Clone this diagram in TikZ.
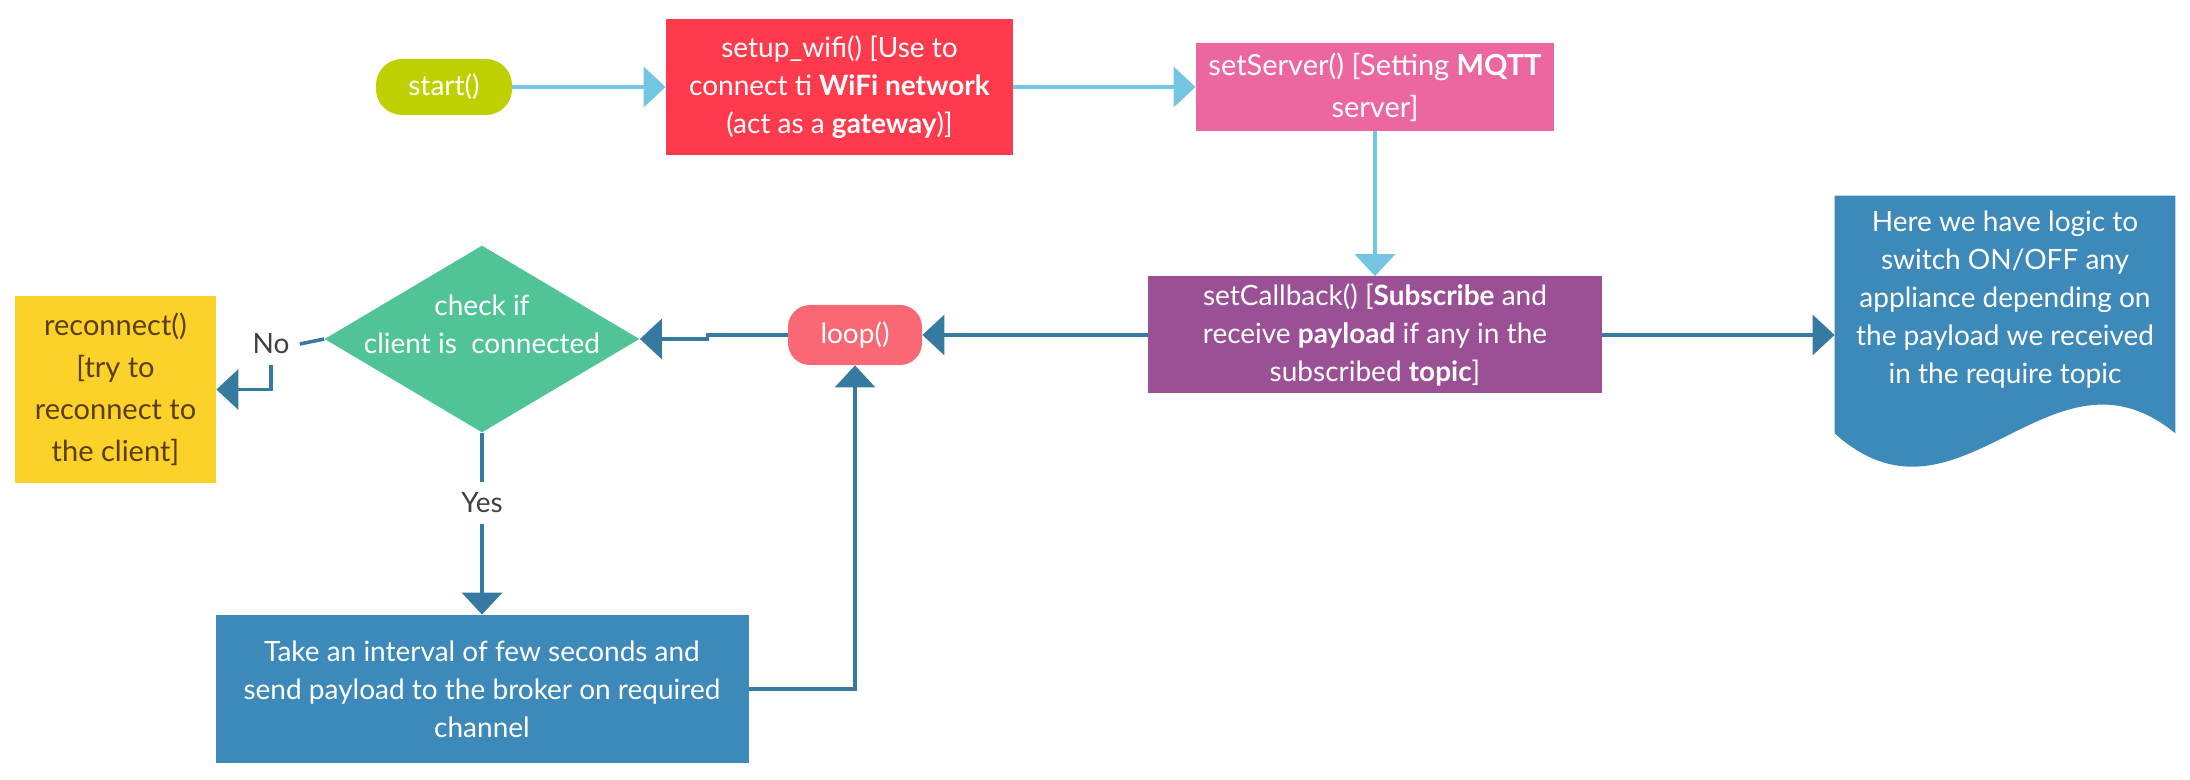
\documentclass[tikz,border=0pt]{standalone}
\usepackage{fontspec}
\setmainfont{Lato}
\usetikzlibrary{arrows.meta,shapes.geometric}
\definecolor{startgreen}{HTML}{BFD000}
\definecolor{wifired}{HTML}{FF3A4C}
\definecolor{serverpink}{HTML}{EC67A0}
\definecolor{callbackpurple}{HTML}{9B5096}
\definecolor{boxblue}{HTML}{3D89B9}
\definecolor{looppink}{HTML}{F96874}
\definecolor{checkgreen}{HTML}{50C497}
\definecolor{reconyellow}{HTML}{FCD12A}
\definecolor{recontext}{HTML}{5A3E0A}
\definecolor{arrowlight}{HTML}{74C5E1}
\definecolor{arrowdark}{HTML}{3679A1}
\definecolor{labelgray}{HTML}{404040}
\begin{document}
\begin{tikzpicture}[x=0.5pt,y=-0.5pt,
	box/.style={text=white,align=center,inner sep=0pt,font=\fontsize{14}{19}\selectfont},
	lbl/.style={text=labelgray,inner sep=5pt,font=\fontsize{14}{17}\selectfont},
	larrow/.style={draw=arrowlight,line width=2pt,-{Triangle[length=11pt,width=20pt]}},
	darrow/.style={draw=arrowdark,line width=1.75pt,-{Triangle[length=11pt,width=20pt]}},
	dline/.style={draw=arrowdark,line width=1.75pt}]
	\useasboundingbox (0,0) rectangle (2190,780);
	% top row
	\node[box,fill=startgreen,rounded corners=13pt,minimum width=68pt,minimum height=28pt] (start) at (444,87) {start()};
	\node[box,fill=wifired,minimum width=173.5pt,minimum height=68pt] (wifi) at (839.5,87) {setup\_wifi() [Use to\\connect ti \textbf{WiFi network}\\(act as a \textbf{gateway})]};
	\node[box,fill=serverpink,minimum width=179pt,minimum height=44pt,font=\fontsize{14.5}{21}\selectfont] (server) at (1375,87) {setServer() [Setting \textbf{MQTT}\\server]};
	\draw[larrow] (start) -- (wifi);
	\draw[larrow] (wifi) -- (server);
	% middle row
	\node[box,fill=callbackpurple,minimum width=227pt,minimum height=58.5pt] (callback) at (1375,335) {setCallback() [\textbf{Subscribe} and\\receive \textbf{payload} if any in the\\subscribed \textbf{topic}]};
	\draw[larrow] (server) -- (callback);
	\node[minimum width=170pt,minimum height=118.5pt,inner sep=0pt] (doc) at (2005,314.5) {};
	\fill[boxblue] (doc.north west) -- (doc.north east) -- (doc.south east)
		.. controls +(-125,-103) and +(125,112) .. (doc.south west) -- cycle;
	\node[box] (doctext) at (2005,300) {Here we have logic to\\switch ON/OFF any\\appliance depending on\\the payload we received\\in the require topic};
	\draw[darrow] (callback.east) -- (doc.west |- callback.east);
	\node[box,fill=looppink,rounded corners=11pt,minimum width=67pt,minimum height=30pt] (loop) at (855,335) {loop()};
	\draw[darrow] (callback) -- (loop);
	\node[diamond,fill=checkgreen,minimum width=157.5pt,minimum height=93.5pt,inner sep=0pt] (check) at (482,339) {};
	\node[box] (checktext) at (482,324) {check if\\client is\ \ connected};
	\draw[darrow] (loop.west) -- ++(-40pt,0) |- (check.east);
	% no branch
	\node[box,fill=reconyellow,text=recontext,minimum width=100.5pt,minimum height=93.5pt,font=\fontsize{14.5}{21}\selectfont] (reconnect) at (115.5,389.5) {reconnect()\\[0pt][try to\\reconnect to\\the client]};
	\node[lbl] (no) at (271,344) {No};
	\draw[dline] (check.west) -- (no.east);
	\draw[darrow] (no.south) |- (reconnect.east);
	% yes branch
	\node[lbl] (yes) at (482,503) {Yes};
	\node[box,fill=boxblue,minimum width=266.5pt,minimum height=74pt] (take) at (482,689) {Take an interval of few seconds and\\send payload to the broker on required\\channel};
	\draw[dline] (check.south) -- (yes.north);
	\draw[darrow] (yes) -- (take);
	\draw[darrow] (take.east) -| (loop.south);
\end{tikzpicture}
\end{document}
